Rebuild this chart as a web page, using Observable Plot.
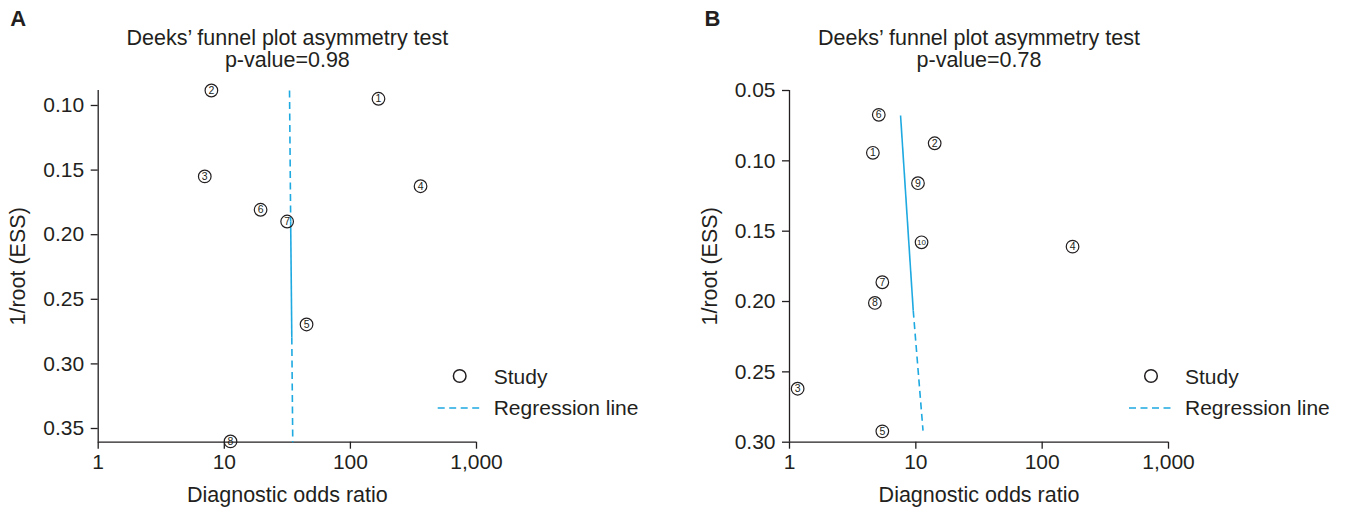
<!DOCTYPE html>
<html><head><meta charset="utf-8">
<script src="https://cdn.jsdelivr.net/npm/d3@7"></script>
<script src="https://cdn.jsdelivr.net/npm/@observablehq/plot@0.6"></script>
<style>
body{margin:0;background:#fff;font-family:"Liberation Sans",Arial,sans-serif;}
#wrap{position:relative;width:1347px;height:511px;overflow:hidden;background:#fff;}
.panel{position:absolute;top:0;width:673px;height:511px;}
.panel svg{overflow:visible;}
.legend{position:absolute;left:0;top:0;pointer-events:none;}
</style></head><body><div id="wrap"></div>
<script>
// ---------- Panel A data ----------
const idsA  = ["1","2","3","4","5","6","7","8"];
const dorA  = [167, 7.9, 7.0, 360, 44.9, 19.4, 31.5, 11.2];
const essA  = [0.0948, 0.0884, 0.1549, 0.1625, 0.2695, 0.1807, 0.1898, 0.3600];
const regDorA  = [32.9, 33.6, 34.3, 34.9];
const regEssA  = [0.0884, 0.1898, 0.2796, 0.3606];
const regDashA = [true, false, true];
const yTicksA  = [0.10, 0.15, 0.20, 0.25, 0.30, 0.35];
const pA = "p-value=0.98";

// ---------- Panel B data ----------
const idsB  = ["1","2","3","4","5","6","7","8","9","10"];
const dorB  = [4.57, 14.1, 1.16, 174, 5.43, 5.09, 5.43, 4.74, 10.4, 11.1];
const essB  = [0.0943, 0.0875, 0.262, 0.161, 0.2923, 0.0673, 0.1863, 0.2010, 0.1159, 0.1579];
const regDorB  = [7.57, 9.54, 11.4];
const regEssB  = [0.0678, 0.2065, 0.2918];
const regDashB = [false, true];
const yTicksB  = [0.05, 0.10, 0.15, 0.20, 0.25, 0.30];
const pB = "p-value=0.78";

const xTicks = [1, 10, 100, 1000];
const titleText = "Deeks\u2019 funnel plot asymmetry test";
const xLabel = "Diagnostic odds ratio";
const yLabel = "1/root (ESS)";
const legendStudy = "Study";
const legendReg = "Regression line";

const INK = "#231f20";
const BLUE = "#1ea9e1";
const FONT = "'Liberation Sans', Arial, sans-serif";

function makePanel(o) {
  const pts = o.ids.map((id, i) => ({id, dor: o.dor[i], ess: o.ess[i]}));
  const segs = o.regDash.map((d, i) => ({
    x1: o.regDor[i], y1: o.regEss[i], x2: o.regDor[i+1], y2: o.regEss[i+1], dashed: d
  }));
  const W = 673, H = 511, mt = 90, mb = 69.3;
  const chart = Plot.plot({
    width: W, height: H,
    marginLeft: o.ml, marginRight: o.mr, marginTop: mt, marginBottom: mb,
    style: {fontFamily: FONT, color: INK, background: "transparent", overflow: "visible"},
    x: {type: "log", domain: [1, 1000]},
    y: {domain: o.yDomain, reverse: true},
    marks: [
      Plot.axisX({ticks: xTicks, tickFormat: d3.format(","), tickSize: 7, tickPadding: 5,
                  fontSize: 21, label: null, stroke: INK, strokeWidth: 1.3}),
      Plot.axisY({ticks: o.yTicks, tickFormat: d3.format(".2f"), tickSize: 7, tickPadding: 7,
                  fontSize: 21, label: null, stroke: INK, strokeWidth: 1.3}),
      Plot.ruleX([1], {stroke: INK, strokeWidth: 1.3}),
      Plot.ruleY([o.yDomain[1]], {stroke: INK, strokeWidth: 1.3}),
      Plot.link(segs.filter(s => s.dashed), {x1: "x1", y1: "y1", x2: "x2", y2: "y2",
                stroke: BLUE, strokeWidth: 1.6, strokeDasharray: "7,4.5"}),
      Plot.link(segs.filter(s => !s.dashed), {x1: "x1", y1: "y1", x2: "x2", y2: "y2",
                stroke: BLUE, strokeWidth: 1.6}),
      Plot.dot(pts, {x: "dor", y: "ess", r: 6.3, stroke: INK, strokeWidth: 1.2, fill: "none"}),
      Plot.text(pts.filter(d => d.id.length === 1), {x: "dor", y: "ess", text: "id", fontSize: 10.5, fill: INK}),
      Plot.text(pts.filter(d => d.id.length > 1), {x: "dor", y: "ess", text: "id", fontSize: 8, fill: INK, letterSpacing: -0.6}),
      Plot.text([titleText], {frameAnchor: "top", dy: -52, lineAnchor: "middle", fontSize: 21.5, fill: INK}),
      Plot.text([o.pval], {frameAnchor: "top", dy: -30, lineAnchor: "middle", fontSize: 21.5, fill: INK}),
      Plot.text([xLabel], {frameAnchor: "bottom", dy: 53, lineAnchor: "middle", fontSize: 21.5, fill: INK}),
      Plot.text([yLabel], {frameAnchor: "left", dx: o.yLabelDx, rotate: -90, textAnchor: "middle",
                lineAnchor: "middle", fontSize: 21.5, fill: INK}),
      Plot.text([o.letter], {frameAnchor: "top-left", dx: o.letterDx, dy: -72, fontSize: 22,
                lineAnchor: "middle", fontWeight: "bold", textAnchor: "start", fill: INK})
    ]
  });
  const div = document.createElement("div");
  div.className = "panel";
  div.style.left = o.left + "px";
  div.appendChild(chart);
  // legend (HTML overlay)
  const ox = o.ml;
  const ns = "http://www.w3.org/2000/svg";
  const lg = document.createElementNS(ns, "svg");
  lg.setAttribute("class", "legend");
  lg.setAttribute("width", W); lg.setAttribute("height", H);
  lg.innerHTML = `
    <circle cx="${ox+362}" cy="376" r="6.3" fill="none" stroke="${INK}" stroke-width="1.5"/>
    <text x="${ox+396}" y="377" dy="0.35em" font-size="21" fill="${INK}" font-family="${FONT}">${legendStudy}</text>
    <line x1="${ox+340}" x2="${ox+383}" y1="408" y2="408" stroke="${BLUE}" stroke-width="1.6" stroke-dasharray="7,4.5"/>
    <text x="${ox+396}" y="407.5" dy="0.35em" font-size="21" fill="${INK}" font-family="${FONT}">${legendReg}</text>`;
  div.appendChild(lg);
  document.getElementById("wrap").appendChild(div);
}

makePanel({ids: idsA, dor: dorA, ess: essA, regDor: regDorA, regEss: regEssA, regDash: regDashA,
  yTicks: yTicksA, yDomain: [0.0884, 0.3606], pval: pA, letter: "A",
  left: 0, ml: 97.7, mr: 673 - 476, yLabelDx: -80, letterDx: -88});
makePanel({ids: idsB, dor: dorB, ess: essB, regDor: regDorB, regEss: regEssB, regDash: regDashB,
  yTicks: yTicksB, yDomain: [0.05, 0.30], pval: pB, letter: "B",
  left: 674, ml: 115, mr: 179, yLabelDx: -79, letterDx: -85});
</script>
</body></html>
